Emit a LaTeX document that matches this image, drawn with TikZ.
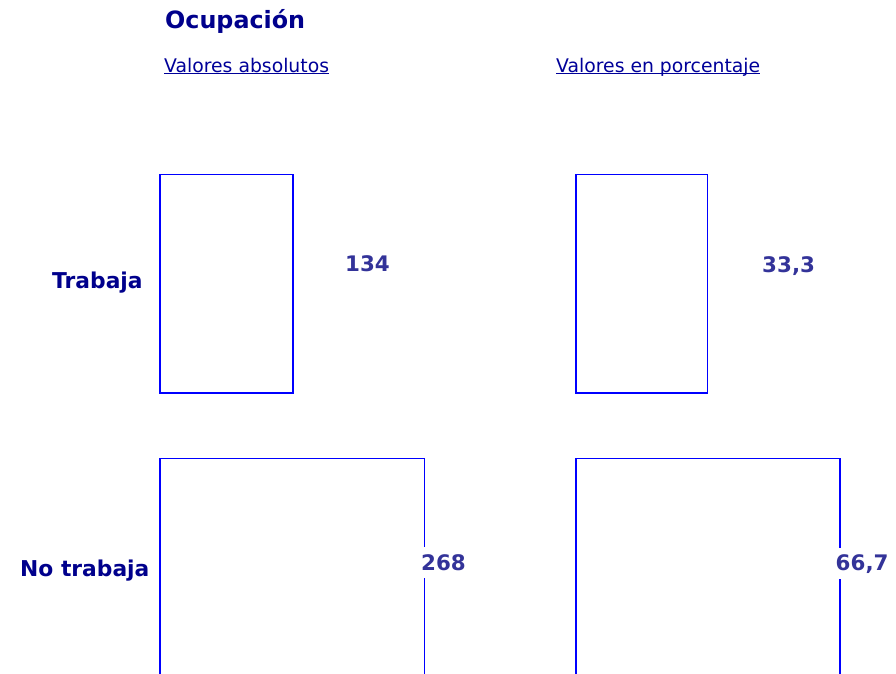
\documentclass[tikz,border=0pt]{standalone}
\usepackage{fontspec}
\setmainfont{DejaVu Sans}
\definecolor{navy}{RGB}{0,0,140}
\definecolor{valcol}{RGB}{51,51,153}
\definecolor{linkcol}{RGB}{0,0,153}
\definecolor{barcol}{RGB}{0,0,255}
\begin{document}
\begin{tikzpicture}[x=1pt,y=-1pt,
  title/.style={anchor=base west,inner sep=0pt,text=navy,font=\fontsize{23.8}{28}\selectfont\bfseries},
  linktext/.style={anchor=base west,inner sep=0pt,text=linkcol,font=\fontsize{18.8}{22}\selectfont},
  rowlabel/.style={anchor=base west,inner sep=0pt,text=navy,font=\fontsize{21.8}{25}\selectfont\bfseries},
  value/.style={anchor=base west,inner sep=0pt,text=valcol,font=\fontsize{21.4}{25}\selectfont\bfseries},
  valueover/.style={value,fill=white,text height=23pt,text depth=8pt},
  bar/.style={draw=barcol,line width=1.6pt}]
\useasboundingbox (0,0) rectangle (896,673);
\clip (0,0) rectangle (896,673);
% title and links
\node[title] (t) at (165,28) {Ocupación};
\node[linktext] (l1) at (164,72) {Valores absolutos};
\node[linktext] (l2) at (556,72) {Valores en porcentaje};
\draw[linkcol,line width=1pt] ([yshift=-1.5pt]l1.base west) -- ([yshift=-1.5pt]l1.base east);
\draw[linkcol,line width=1pt] ([yshift=-1.5pt]l2.base west) -- ([yshift=-1.5pt]l2.base east);
% row labels
\node[rowlabel] (r1) at (52,288) {Trabaja};
\node[rowlabel] (r2) at (20,576) {No trabaja};
% bars
\draw[bar] (160,174.5) rectangle (293,393);
\draw[bar] (576,174.5) rectangle (707.5,393);
\draw[bar] (160,690) -- (160,458.5) -- (424.5,458.5) -- (424.5,690);
\draw[bar] (576,690) -- (576,458.5) -- (840,458.5) -- (840,690);
% values
\node[value] (v1) at (345,271.5) {134};
\node[value] (v2) at (762,272.5) {33,3};
\node[valueover] (v3) at (421,570) {268};
\node[valueover] (v4) at (835.5,570.5) {66,7};
\end{tikzpicture}
\end{document}
